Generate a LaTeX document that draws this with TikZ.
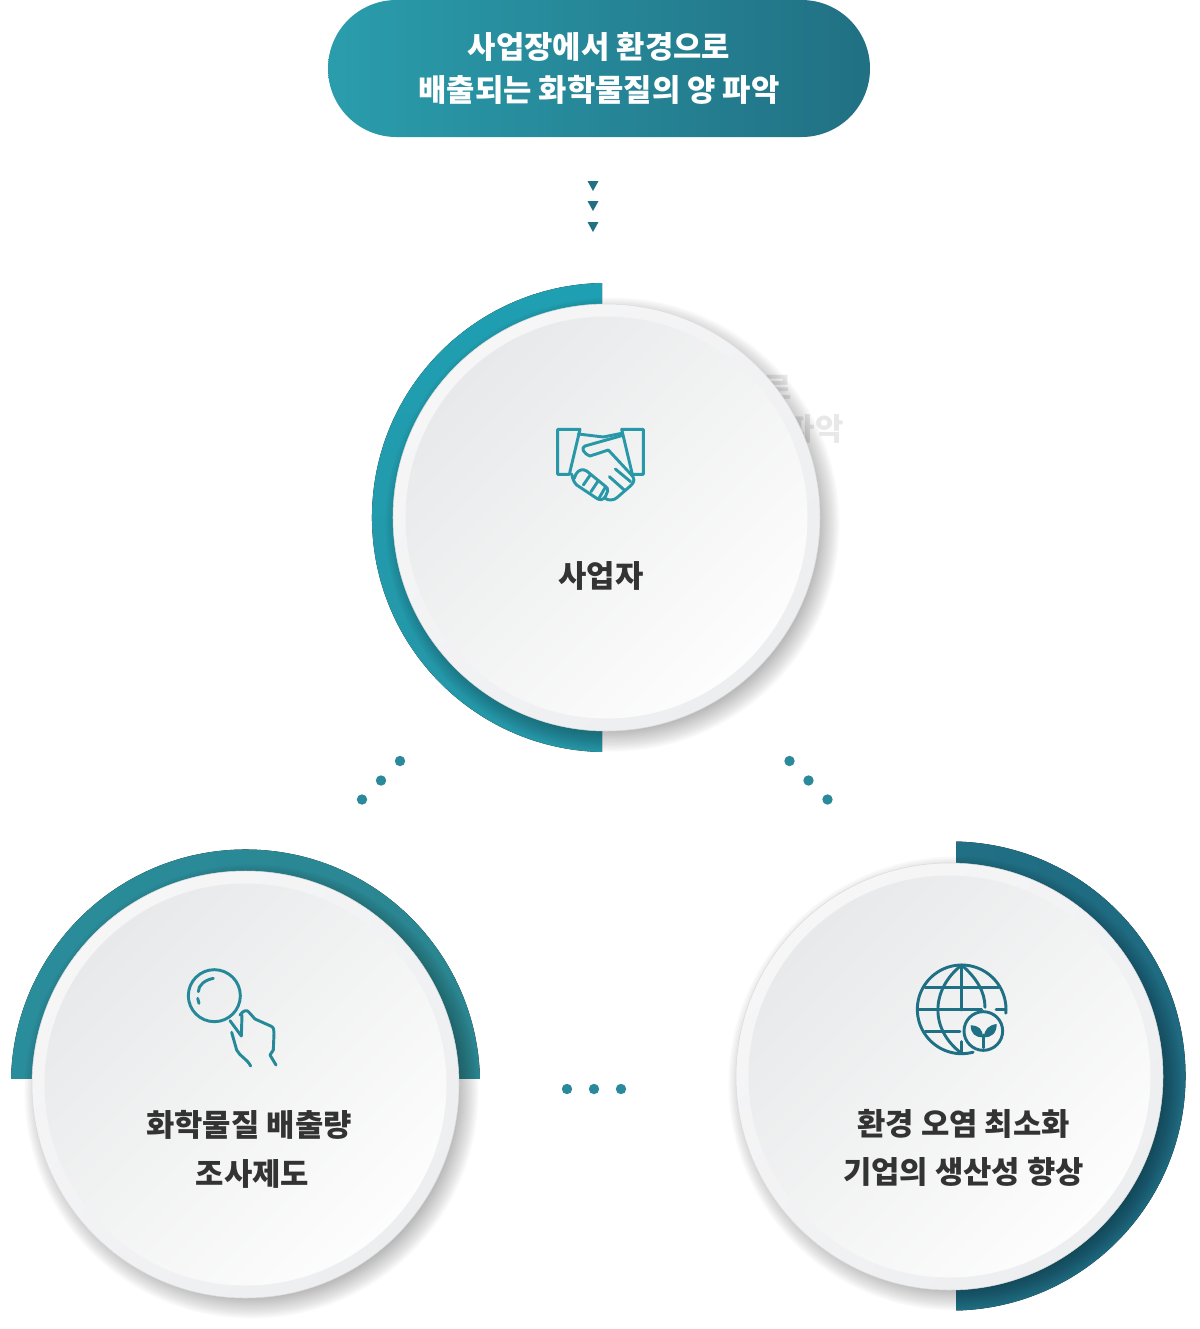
\documentclass[tikz,border=0pt]{standalone}
\usepackage{fontspec}
\setmainfont{Noto Sans CJK KR}
\AtBeginDocument{\bfseries}
\usetikzlibrary{calc}
\definecolor{tealA}{HTML}{2A9DAC}
\definecolor{tealB}{HTML}{217083}
\definecolor{hand}{HTML}{2898A8}
\definecolor{lens}{HTML}{26899A}
\definecolor{globe}{HTML}{1F7085}
\definecolor{dotc}{HTML}{2A8A9C}
\definecolor{ink}{HTML}{333333}
\definecolor{arcAt}{HTML}{1F9FB2}
\definecolor{arcAb}{HTML}{2596A6}
\definecolor{arcBl}{HTML}{2A8D9B}
\definecolor{arcBr}{HTML}{2A8590}
\definecolor{arcCl}{HTML}{21758A}
\definecolor{arcCr}{HTML}{1F6A80}
\definecolor{ringA}{HTML}{F6F6F7}
\definecolor{ringB}{HTML}{EDEEF0}
\definecolor{coreA}{HTML}{E8E9EA}
\definecolor{coreB}{HTML}{FDFDFD}
\tikzset{
  x=0.75pt,y=-0.75pt,
  disc/.style={circle,inner sep=0pt,minimum size=320.25pt,draw=black!14,line width=0.4pt,left color=ringA,right color=ringB,shading angle=45},
  core/.style={circle,inner sep=0pt,minimum size=301.5pt,left color=coreA,right color=coreB,shading angle=45},
  lbl/.style={text=ink,font=\fontsize{23.1pt}{36pt}\selectfont\bfseries,align=center,inner sep=0pt},
  ghost/.style={text=black!9,font=\fontsize{23.1pt}{30pt}\selectfont\bfseries,inner sep=0pt},
  dotn/.style={circle,fill=dotc,inner sep=0pt,minimum size=7.8pt},
  tri/.style={fill=tealB,draw=none},
  icon/.style={line width=2.2pt,line cap=round,line join=round}
}
\newcommand{\softshadow}[2]{%
  \foreach \q in {0,...,15}{
    \fill[black,opacity=0.024] (#1+6,#2+7) circle[radius={(227-\q*1.7)*0.75pt}];
  }}
\begin{document}
\begin{tikzpicture}
\useasboundingbox (0,0) rectangle (1200,1329);
% top pill
\node[rectangle,rounded corners=51.3pt,minimum width=406.5pt,minimum height=102.75pt,inner sep=0pt,
  left color=tealA,right color=tealB,text=white,align=center,
  font=\fontsize{23.1pt}{32pt}\selectfont\bfseries] (pill) at (599,68.5) {\raisebox{1pt}{사업장에서 환경으로}\\[-0.4pt]배출되는 화학물질의 양 파악\rule[-2pt]{0pt}{2pt}};
% triangles
\foreach \n/\y in {a/181,b/201,c/222}{
  \coordinate (t\n) at (593,\y);
  \fill[tri] (t\n) ++(-5.5,0) -- ++(11,0) -- ++(-5.5,10) -- cycle;
}
% ghost text
\node[ghost] (ghostA) at (778,387) {로};
\node[ghost] (ghostB) at (815,429) {파악};
% arcs
\begin{scope}
  \clip (300,250) rectangle (602,800);
  \fill[top color=arcAt,bottom color=arcAb] (606.5,517.5) circle[radius=175.9pt];
\end{scope}
\begin{scope}
  \clip (0,800) rectangle (500,1078);
  \fill[left color=arcBl,right color=arcBr] (245.5,1084) circle[radius=175.9pt];
\end{scope}
\begin{scope}
  \clip (956,800) rectangle (1200,1329);
  \fill[left color=arcCl,right color=arcCr] (951,1076) circle[radius=175.9pt];
\end{scope}
% shadows
\softshadow{606.5}{517.5}
\softshadow{245.5}{1084.5}
\softshadow{949.5}{1076.5}
% discs
\node[disc] (d1) at (606.5,517.5) {};
\node[core] (c1) at (606.5,517.5) {};
\node[disc] (d2) at (245.5,1084.5) {};
\node[core] (c2) at (245.5,1084.5) {};
\node[disc] (d3) at (949.5,1076.5) {};
\node[core] (c3) at (949.5,1076.5) {};
% labels
\node[lbl] (l1) at (601,576) {사업자};
\node[lbl] (l2a) at (249,1125) {화학물질 배출량};
\node[lbl] (l2b) at (252.5,1174) {조사제도};
\node[lbl] (l3a) at (963.5,1124) {환경 오염 최소화};
\node[lbl] (l3b) at (963.5,1172) {기업의 생산성 향상};
% dots
\foreach \n/\a/\b in {p1/400/761,p2/381/780.5,p3/362/799.5,p4/789.5/761,p5/808.5/780.5,p6/827.5/799.5,p7/567/1089,p8/594/1089,p9/621/1089}{
  \node[dotn] (\n) at (\a,\b) {};
}
% handshake
\begin{scope}[shift={(540,370)},x=0.25pt,y=-0.25pt,draw=hand,icon]
  \draw (53,178) -- (120,178) -- (88,313) -- (53,313) -- cycle;
  \draw (245,178) -- (310,178) -- (310,313) -- (277,313) -- cycle;
  \draw (115,192) -- (190,201) -- (245,190);
  \draw (245,197) -- (135,228) .. controls (122,234) and (130,250) .. (150,258) -- (205,240) -- (272,312) .. controls (285,325) and (285,335) .. (272,347) -- (232,382) .. controls (222,392) and (205,392) .. (195,385);
  \draw (95,312) .. controls (98,325) and (100,335) .. (110,345) -- (170,385) .. controls (180,392) and (190,390) .. (197,378) -- (203,363) .. controls (205,355) and (200,352) .. (195,348) -- (140,303) .. controls (128,295) and (115,300) .. (108,312) -- (103,325);
  \draw (152,313) -- (130,345);
  \draw (175,332) -- (153,365);
  \draw (197,350) -- (178,383);
  \draw (226,297) -- (272,335);
  \draw (208,320) -- (255,362);
\end{scope}
% magnifier
\begin{scope}[shift={(130,950)},x=0.25pt,y=-0.25pt,draw=lens,icon]
  \draw (253,137) circle[radius=19.5pt];
  \draw (250,85) .. controls (225,90) and (205,105) .. (205,125);
  \draw (203,145) -- (207,160);
  \draw (300,212) -- (334,258) -- (336,195);
  \draw (330,195) .. controls (340,180) and (352,178) .. (358,188) -- (375,207) -- (422,228) .. controls (432,232) and (432,240) .. (432,250) -- (430,300) -- (420,315) -- (438,345);
  \draw (305,247) -- (320,300) .. controls (330,320) and (350,325) .. (362,348);
\end{scope}
% globe
\begin{scope}[shift={(840,950)},x=0.25pt,y=-0.25pt,draw=globe,icon]
  \draw plot[domain=-5:285,samples=80] ({365+133*cos(\x)},{178-133*sin(\x)});
  \draw (430,243) circle[radius=14.5pt];
  \draw (365,45) -- (365,180);
  \draw (365,275) -- (365,310);
  \draw (232,178) -- (425,178);
  \draw (468,178) -- (498,178);
  \draw (255,112) -- (475,112);
  \draw (255,245) -- (360,245);
  \draw (365,45) .. controls (270,120) and (270,240) .. (365,310);
  \draw (365,45) .. controls (410,85) and (435,125) .. (435,172);
  \draw (430,293) -- (430,255);
  \fill[globe] (392,226) .. controls (415,226) and (430,238) .. (428,262) .. controls (405,262) and (392,250) .. (392,226) -- cycle;
  \fill[globe] (470,222) .. controls (447,225) and (432,238) .. (432,262) .. controls (455,262) and (470,250) .. (470,222) -- cycle;
\end{scope}
\end{tikzpicture}
\end{document}
